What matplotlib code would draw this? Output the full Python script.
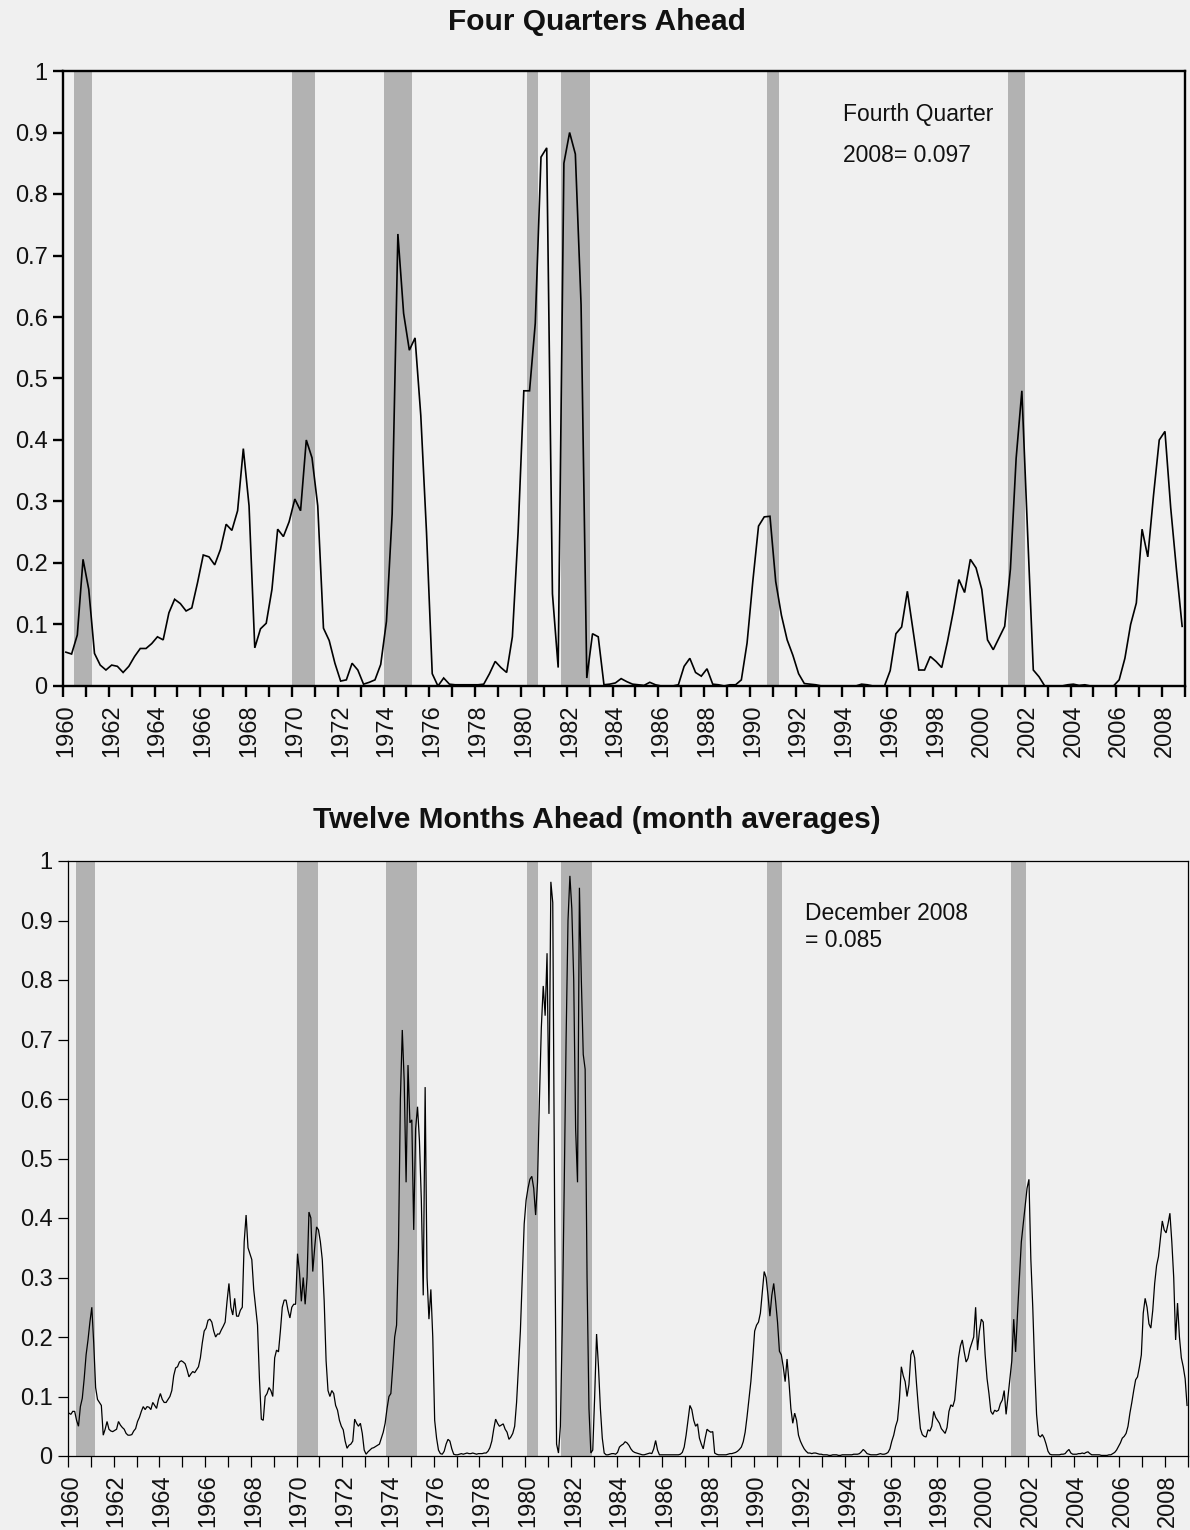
import numpy as np
import matplotlib
matplotlib.use("Agg")
import matplotlib.pyplot as plt
from matplotlib.transforms import ScaledTranslation

plt.rcParams['font.family'] = ['Liberation Sans', 'DejaVu Sans']

# ---------------- data ----------------
first_year = 1960
tick_years = list(range(1960, 2010))
label_years = list(range(1960, 2010, 2))
y_ticks = [0, 0.1, 0.2, 0.3, 0.4, 0.5, 0.6, 0.7, 0.8, 0.9, 1.0]
y_tick_labels = ['0', '0.1', '0.2', '0.3', '0.4', '0.5', '0.6', '0.7', '0.8', '0.9', '1']

# recession shading (start, end) in years
recessions_quarterly = [(1960.5, 1961.25), (1970.0, 1971.0), (1974.0, 1975.25),
                        (1980.25, 1980.75), (1981.75, 1983.0), (1990.75, 1991.25),
                        (2001.25, 2002.0)]
recessions_monthly = [(1960.333, 1961.167), (1970.0, 1970.917), (1973.917, 1975.25),
                      (1980.083, 1980.583), (1981.583, 1982.917), (1990.583, 1991.25),
                      (2001.25, 2001.917)]

# Four quarters ahead, quarterly 1960Q1 - 2008Q4
prob_4q = [
    0.055, 0.052, 0.083, 0.206,   # 1960
    0.157, 0.053, 0.034, 0.026,   # 1961
    0.034, 0.032, 0.022, 0.032,   # 1962
    0.048, 0.061, 0.061, 0.069,   # 1963
    0.080, 0.075, 0.119, 0.141,   # 1964
    0.134, 0.122, 0.127, 0.168,   # 1965
    0.213, 0.210, 0.197, 0.222,   # 1966
    0.263, 0.253, 0.285, 0.386,   # 1967
    0.293, 0.062, 0.093, 0.102,   # 1968
    0.157, 0.255, 0.243, 0.267,   # 1969
    0.304, 0.285, 0.400, 0.371,   # 1970
    0.293, 0.094, 0.074, 0.037,   # 1971
    0.008, 0.010, 0.037, 0.026,   # 1972
    0.003, 0.006, 0.010, 0.035,   # 1973
    0.105, 0.280, 0.735, 0.606,   # 1974
    0.546, 0.566, 0.440, 0.250,   # 1975
    0.020, 0.000, 0.013, 0.003,   # 1976
    0.002, 0.002, 0.002, 0.002,   # 1977
    0.002, 0.003, 0.020, 0.040,   # 1978
    0.030, 0.022, 0.080, 0.250,   # 1979
    0.480, 0.480, 0.590, 0.860,   # 1980
    0.875, 0.150, 0.030, 0.850,   # 1981
    0.900, 0.865, 0.620, 0.013,   # 1982
    0.085, 0.080, 0.002, 0.003,   # 1983
    0.005, 0.012, 0.007, 0.003,   # 1984
    0.002, 0.001, 0.006, 0.002,   # 1985
    0.000, 0.000, 0.000, 0.002,   # 1986
    0.032, 0.045, 0.022, 0.016,   # 1987
    0.028, 0.003, 0.002, 0.000,   # 1988
    0.002, 0.002, 0.010, 0.070,   # 1989
    0.170, 0.260, 0.275, 0.276,   # 1990
    0.170, 0.115, 0.075, 0.050,   # 1991
    0.020, 0.004, 0.003, 0.002,   # 1992
    0.000, 0.000, 0.000, 0.000,   # 1993
    0.000, 0.000, 0.000, 0.003,   # 1994
    0.002, 0.000, 0.000, 0.000,   # 1995
    0.025, 0.085, 0.096, 0.154,   # 1996
    0.090, 0.026, 0.026, 0.048,   # 1997
    0.040, 0.030, 0.072, 0.120,   # 1998
    0.173, 0.152, 0.206, 0.192,   # 1999
    0.157, 0.075, 0.059, 0.078,   # 2000
    0.097, 0.190, 0.370, 0.480,   # 2001
    0.250, 0.026, 0.015, 0.000,   # 2002
    0.000, 0.000, 0.000, 0.002,   # 2003
    0.003, 0.001, 0.002, 0.000,   # 2004
    0.000, 0.000, 0.000, 0.000,   # 2005
    0.010, 0.045, 0.100, 0.135,   # 2006
    0.255, 0.210, 0.310, 0.400,   # 2007
    0.414, 0.290, 0.190, 0.097,   # 2008
]

# Twelve months ahead (month averages), monthly Jan 1960 - Dec 2008
prob_12m = [
    0.072, 0.070, 0.075, 0.075, 0.060, 0.050, 0.083, 0.097, 0.130, 0.170, 0.195, 0.225,  # 1960
    0.250, 0.190, 0.115, 0.095, 0.090, 0.085, 0.035, 0.045, 0.058, 0.045, 0.042, 0.041,  # 1961
    0.043, 0.045, 0.058, 0.052, 0.048, 0.045, 0.038, 0.035, 0.035, 0.036, 0.042, 0.046,  # 1962
    0.058, 0.065, 0.075, 0.083, 0.078, 0.083, 0.082, 0.078, 0.090, 0.085, 0.080, 0.095,  # 1963
    0.105, 0.095, 0.090, 0.090, 0.095, 0.100, 0.110, 0.135, 0.148, 0.150, 0.158, 0.160,  # 1964
    0.158, 0.155, 0.145, 0.133, 0.138, 0.142, 0.140, 0.145, 0.150, 0.165, 0.190, 0.210,  # 1965
    0.215, 0.228, 0.230, 0.225, 0.210, 0.200, 0.205, 0.205, 0.212, 0.218, 0.225, 0.260,  # 1966
    0.290, 0.250, 0.237, 0.265, 0.235, 0.235, 0.245, 0.250, 0.360, 0.405, 0.350, 0.340,  # 1967
    0.330, 0.280, 0.250, 0.220, 0.130, 0.062, 0.060, 0.100, 0.105, 0.115, 0.110, 0.100,  # 1968
    0.165, 0.178, 0.175, 0.210, 0.250, 0.262, 0.262, 0.245, 0.232, 0.250, 0.255, 0.255,  # 1969
    0.340, 0.310, 0.260, 0.300, 0.255, 0.300, 0.410, 0.400, 0.310, 0.350, 0.385, 0.380,  # 1970
    0.360, 0.330, 0.260, 0.160, 0.110, 0.100, 0.110, 0.105, 0.085, 0.077, 0.060, 0.050,  # 1971
    0.044, 0.025, 0.013, 0.018, 0.020, 0.025, 0.062, 0.055, 0.050, 0.055, 0.038, 0.010,  # 1972
    0.003, 0.007, 0.010, 0.013, 0.014, 0.016, 0.018, 0.020, 0.030, 0.040, 0.055, 0.080,  # 1973
    0.100, 0.105, 0.150, 0.200, 0.220, 0.350, 0.600, 0.716, 0.630, 0.460, 0.657, 0.560,  # 1974
    0.565, 0.380, 0.550, 0.587, 0.530, 0.430, 0.270, 0.620, 0.300, 0.230, 0.280, 0.200,  # 1975
    0.060, 0.030, 0.010, 0.004, 0.003, 0.008, 0.020, 0.028, 0.025, 0.012, 0.003, 0.002,  # 1976
    0.002, 0.003, 0.004, 0.003, 0.004, 0.005, 0.004, 0.004, 0.005, 0.004, 0.003, 0.004,  # 1977
    0.004, 0.004, 0.005, 0.005, 0.008, 0.014, 0.025, 0.045, 0.062, 0.055, 0.050, 0.052,  # 1978
    0.054, 0.045, 0.040, 0.028, 0.032, 0.038, 0.050, 0.090, 0.150, 0.210, 0.300, 0.390,  # 1979
    0.430, 0.450, 0.465, 0.470, 0.450, 0.405, 0.460, 0.600, 0.720, 0.790, 0.740, 0.845,  # 1980
    0.575, 0.965, 0.930, 0.400, 0.020, 0.005, 0.050, 0.220, 0.450, 0.700, 0.900, 0.975,  # 1981
    0.920, 0.800, 0.550, 0.460, 0.955, 0.800, 0.675, 0.650, 0.300, 0.080, 0.005, 0.010,  # 1982
    0.100, 0.205, 0.150, 0.080, 0.030, 0.005, 0.002, 0.002, 0.003, 0.004, 0.004, 0.003,  # 1983
    0.006, 0.015, 0.018, 0.020, 0.024, 0.022, 0.018, 0.012, 0.008, 0.006, 0.005, 0.004,  # 1984
    0.003, 0.002, 0.002, 0.003, 0.004, 0.005, 0.004, 0.012, 0.026, 0.010, 0.002, 0.002,  # 1985
    0.002, 0.002, 0.002, 0.002, 0.002, 0.002, 0.002, 0.002, 0.002, 0.003, 0.006, 0.015,  # 1986
    0.035, 0.060, 0.085, 0.078, 0.060, 0.050, 0.054, 0.030, 0.020, 0.012, 0.030, 0.045,  # 1987
    0.042, 0.040, 0.041, 0.005, 0.003, 0.002, 0.002, 0.002, 0.002, 0.002, 0.003, 0.004,  # 1988
    0.004, 0.005, 0.006, 0.008, 0.011, 0.015, 0.024, 0.040, 0.066, 0.095, 0.125, 0.165,  # 1989
    0.210, 0.220, 0.225, 0.240, 0.275, 0.310, 0.300, 0.270, 0.235, 0.270, 0.290, 0.260,  # 1990
    0.225, 0.176, 0.170, 0.150, 0.125, 0.163, 0.125, 0.080, 0.055, 0.072, 0.060, 0.035,  # 1991
    0.025, 0.018, 0.012, 0.008, 0.005, 0.005, 0.004, 0.005, 0.005, 0.004, 0.003, 0.003,  # 1992
    0.002, 0.002, 0.002, 0.001, 0.001, 0.002, 0.002, 0.002, 0.001, 0.001, 0.002, 0.002,  # 1993
    0.002, 0.002, 0.002, 0.002, 0.003, 0.003, 0.003, 0.004, 0.007, 0.011, 0.008, 0.004,  # 1994
    0.003, 0.002, 0.002, 0.002, 0.002, 0.003, 0.004, 0.003, 0.003, 0.004, 0.006, 0.012,  # 1995
    0.025, 0.035, 0.050, 0.060, 0.095, 0.150, 0.135, 0.125, 0.100, 0.120, 0.170, 0.178,  # 1996
    0.165, 0.120, 0.080, 0.046, 0.036, 0.033, 0.032, 0.044, 0.042, 0.050, 0.075, 0.065,  # 1997
    0.060, 0.055, 0.046, 0.042, 0.038, 0.048, 0.075, 0.086, 0.083, 0.094, 0.130, 0.165,  # 1998
    0.185, 0.195, 0.175, 0.158, 0.164, 0.180, 0.190, 0.200, 0.250, 0.178, 0.210, 0.230,  # 1999
    0.225, 0.170, 0.130, 0.105, 0.075, 0.070, 0.077, 0.075, 0.077, 0.088, 0.094, 0.110,  # 2000
    0.070, 0.100, 0.130, 0.160, 0.230, 0.175, 0.240, 0.300, 0.360, 0.390, 0.420, 0.450,  # 2001
    0.465, 0.330, 0.250, 0.150, 0.070, 0.035, 0.032, 0.036, 0.030, 0.020, 0.008, 0.003,  # 2002
    0.002, 0.002, 0.002, 0.002, 0.002, 0.003, 0.003, 0.004, 0.008, 0.011, 0.005, 0.003,  # 2003
    0.003, 0.003, 0.004, 0.004, 0.005, 0.004, 0.006, 0.007, 0.004, 0.002, 0.002, 0.002,  # 2004
    0.002, 0.002, 0.001, 0.001, 0.001, 0.001, 0.002, 0.002, 0.004, 0.006, 0.010, 0.016,  # 2005
    0.022, 0.030, 0.033, 0.038, 0.050, 0.072, 0.090, 0.110, 0.128, 0.133, 0.150, 0.170,  # 2006
    0.240, 0.265, 0.250, 0.222, 0.215, 0.245, 0.290, 0.320, 0.335, 0.365, 0.395, 0.380,  # 2007
    0.375, 0.390, 0.408, 0.360, 0.300, 0.195, 0.257, 0.200, 0.165, 0.150, 0.130, 0.085,  # 2008
]

title_top = 'Four Quarters Ahead'
title_bottom = 'Twelve Months Ahead (month averages)'
note_top = ['Fourth Quarter', '2008= 0.097']
note_bottom = ['December 2008', '= 0.085']

# ---------------- figure ----------------
W, H = 1190, 1530
BG = '#f0f0f0'
BAR = '#b2b2b2'
fig = plt.figure(figsize=(W / 100, H / 100), dpi=100, facecolor=BG)


def rect(left, right, top, bottom):
    return [left / W, 1 - bottom / H, (right - left) / W, (bottom - top) / H]


ax1 = fig.add_axes(rect(63, 1185, 71, 686))
ax2 = fig.add_axes(rect(68, 1188, 861, 1456))

x_q = first_year + (np.arange(len(prob_4q)) + 0.5) / 4.0
x_m = first_year + (np.arange(len(prob_12m)) + 0.5) / 12.0


def style(ax, bars, x, y, lw_line, lw_frame):
    ax.set_facecolor(BG)
    for s, e in bars:
        ax.axvspan(s, e, color=BAR, lw=0, zorder=1)
    ax.plot(x, y, color='black', lw=lw_line, zorder=3, solid_joinstyle='miter')
    ax.set_xlim(1960, 2009)
    ax.set_ylim(0, 1)
    ax.set_yticks(y_ticks)
    ax.set_yticklabels(y_tick_labels)
    ax.set_xticks(tick_years)
    ax.set_xticklabels([str(yr) if yr in label_years else '' for yr in tick_years],
                       rotation=90)
    for sp in ax.spines.values():
        sp.set_linewidth(lw_frame)
        sp.set_color('black')
        sp.set_zorder(4)
    ax.tick_params(axis='y', direction='out', length=7, width=lw_frame,
                   labelsize=17, pad=4, colors='black', labelcolor='#111111')
    ax.tick_params(axis='x', direction='out', length=8, width=lw_frame,
                   labelsize=17, pad=5, colors='black', labelcolor='#111111')
    off = ScaledTranslation(3 / 100, 0, fig.dpi_scale_trans)
    for lbl in ax.get_xticklabels():
        lbl.set_transform(lbl.get_transform() + off)


style(ax1, recessions_quarterly, x_q, prob_4q, 1.2, 1.7)
style(ax2, recessions_monthly, x_m, prob_12m, 0.9, 0.9)

fig.text(597 / W, 1 - 22 / H, title_top, ha='center', va='center',
         fontsize=21.5, fontweight='bold', color='#111111')
fig.text(597 / W, 1 - 820 / H, title_bottom, ha='center', va='center',
         fontsize=21.5, fontweight='bold', color='#111111')

fig.text(843 / W, 1 - 114 / H, note_top[0], ha='left', va='center', fontsize=16.5, color='#111111')
fig.text(843 / W, 1 - 156 / H, note_top[1], ha='left', va='center', fontsize=16.5, color='#111111')
fig.text(805 / W, 1 - 913 / H, note_bottom[0], ha='left', va='center', fontsize=16.5, color='#111111')
fig.text(805 / W, 1 - 940 / H, note_bottom[1], ha='left', va='center', fontsize=16.5, color='#111111')

fig.savefig('out.png', dpi=100, facecolor=BG)
